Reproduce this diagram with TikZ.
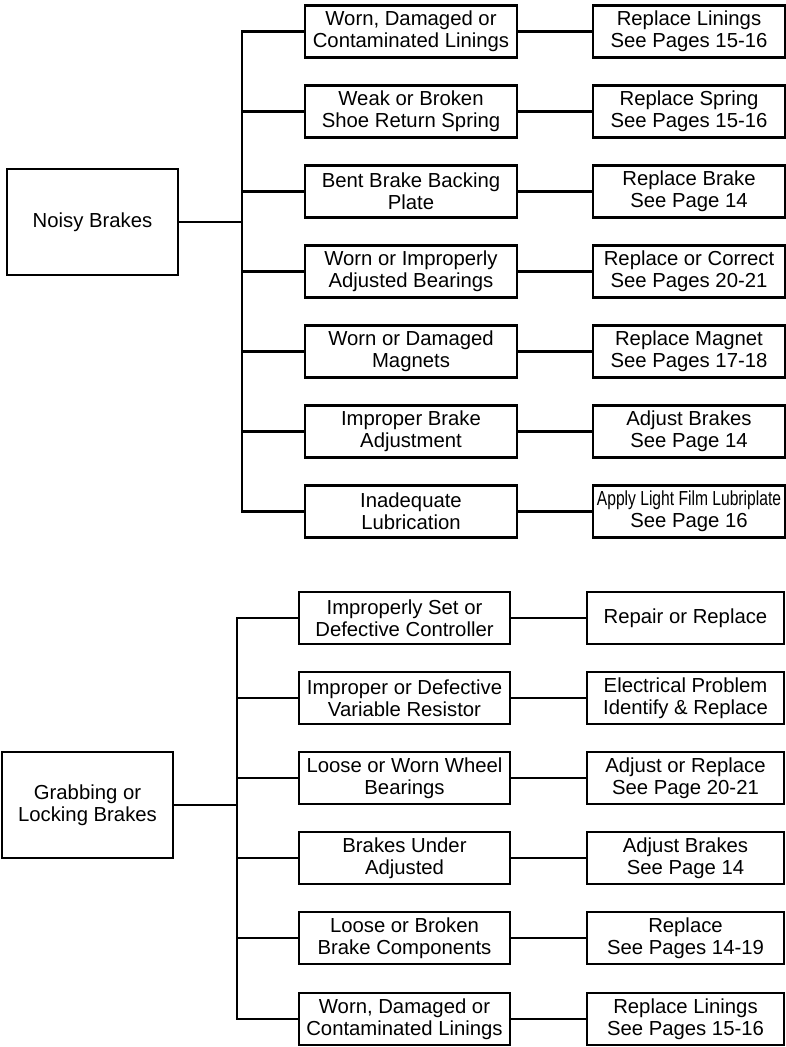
\documentclass[tikz,border=0pt]{standalone}
\usepackage{fontspec}
\setmainfont{Liberation Sans}
\usepackage{graphicx}

\begin{document}
\begin{tikzpicture}[x=1pt,y=-1pt,line width=2.1pt,
    kotak/.style={draw,inner sep=0pt,align=center,minimum height=52pt,
      font=\fontsize{20.3}{22}\selectfont},
    masalah/.style={kotak,minimum width=171pt,minimum height=106pt},
    sebab/.style={kotak,minimum width=212pt},
    solusi/.style={kotak,minimum width=192pt}]
  \useasboundingbox (0,0) rectangle (786,1047);
  % Rem berisik
  \node[masalah] (berisik) at (92.5,222) {Noisy Brakes};
  \coordinate (bagiA) at (242,222);
  \draw (berisik.east) -- (bagiA);
  \foreach \y/\s/\r [count=\i] in {
      31.5/{Worn, Damaged or\\Contaminated Linings}/{Replace Linings\\See Pages 15-16},
      111.5/{Weak or Broken\\Shoe Return Spring}/{Replace Spring\\See Pages 15-16},
      191.5/{Bent Brake Backing\\Plate}/{Replace Brake\\See Page 14},
      271.5/{Worn or Improperly\\Adjusted Bearings}/{Replace or Correct\\See Pages 20-21},
      351.5/{Worn or Damaged\\Magnets}/{Replace Magnet\\See Pages 17-18},
      431.5/{Improper Brake\\Adjustment}/{Adjust Brakes\\See Page 14},
      511.5/{Inadequate\\Lubrication}/{\scalebox{0.77}[1]{Apply Light Film Lubriplate}\\See Page 16}} {
    \node[sebab] (sA\i) at (411,\y) {\s};
    \node[solusi] (rA\i) at (689,\y) {\r};
    \coordinate (cA\i) at (242,\y);
    \draw (cA\i) -- (sA\i.west);
    \draw (sA\i.east) -- (rA\i.west);
  }
  \draw[line cap=rect] (cA1) -- (cA7);
  % Rem mencengkeram atau mengunci
  \node[masalah] (mengunci) at (87.5,805) {Grabbing or\\Locking Brakes};
  \coordinate (bagiB) at (237,805);
  \draw (mengunci.east) -- (bagiB);
  \foreach \y/\s/\r [count=\i] in {
      618/{Improperly Set or\\Defective Controller}/{Repair or Replace},
      698/{Improper or Defective\\Variable Resistor}/{Electrical Problem\\Identify \& Replace},
      778/{Loose or Worn Wheel\\Bearings}/{Adjust or Replace\\See Page 20-21},
      858/{Brakes Under\\Adjusted}/{Adjust Brakes\\See Page 14},
      938/{Loose or Broken\\Brake Components}/{Replace\\See Pages 14-19},
      1019/{Worn, Damaged or\\Contaminated Linings}/{Replace Linings\\See Pages 15-16}} {
    \node[sebab,minimum width=211pt] (sB\i) at (404.5,\y) {\s};
    \node[solusi,minimum width=197pt] (rB\i) at (685.5,\y) {\r};
    \coordinate (cB\i) at (237,\y);
    \draw (cB\i) -- (sB\i.west);
    \draw (sB\i.east) -- (rB\i.west);
  }
  \draw[line cap=rect] (cB1) -- (cB6);
\end{tikzpicture}
\end{document}
